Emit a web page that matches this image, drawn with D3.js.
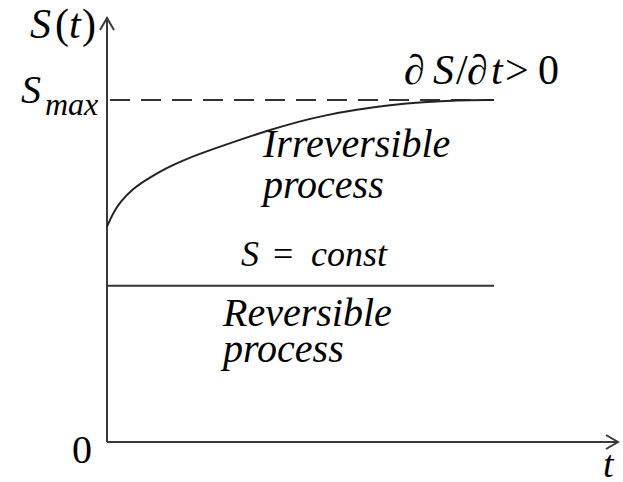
<!DOCTYPE html>
<html>
<head>
<meta charset="utf-8">
<script src="https://cdn.jsdelivr.net/npm/d3@7"></script>
</head>
<body style="margin:0">
<script>
// Irreversible process: entropy grows toward S_max
var tVals = [0, 0.155, 0.336, 0.672, 1.11, 1.55, 1.96, 2.40, 3.26, 4.13, 4.99, 5.58, 6.46, 7.31, 8.17, 9.04, 10];
var sVals = [0.63, 0.669, 0.701, 0.742, 0.774, 0.802, 0.823, 0.843, 0.877, 0.910, 0.938, 0.954, 0.972, 0.985, 0.994, 0.999, 1.0];
// Reversible process: constant entropy
var constT = [0, 10];
var constS = [0.457, 0.457];
var sMax = 1;
var tEnd = 10;

var width = 623, height = 482;

var svg = d3.select("body")
    .append("svg")
    .attr("width", width)
    .attr("height", height);

// labels first, one text element per piece
function label(px, py, size, txt, italic) {
    var t = svg.append("text")
        .attr("x", px).attr("y", py)
        .attr("font-family", "Liberation Serif")
        .attr("font-size", size);
    if (italic) t.attr("font-style", "italic");
    return t.text(txt);
}

// S(t)
label(30, 38, 42, "S", true);
label(55, 38, 42, "(", false);
label(69, 38, 42, "t", true);
label(82, 38, 42, ")", false);

// S_max
label(21, 103, 40, "S", true);
label(45, 115, 32, "max", true);

// dS/dt > 0
label(404, 84, 42, "\u2202", false);
label(433, 84, 42, "S", true);
label(456, 84, 42, "/", false);
label(467, 84, 42, "\u2202", false);
label(491, 84, 42, "t", true);
label(505, 84, 42, ">", false);
label(538, 84, 42, "0", false);

label(263, 157, 40, "Irreversible", true);
label(263, 198, 40, "process", true);

// S = const
label(241, 266, 36, "S", true);
label(273, 266, 36, "=", false);
label(311, 266, 36, "const", true);

label(223, 326, 40, "Reversible", true);
label(223, 362, 40, "process", true);

label(72, 463, 40, "0", false);
label(603, 477, 38, "t", true);

var x = d3.scaleLinear().domain([0, 10]).range([107, 494]);
var y = d3.scaleLinear().domain([0, 1]).range([442, 100]);

// axis extents (beyond the data) in data units
var xAxisEnd = x.invert(618);
var yAxisEnd = y.invert(18);

var axisColor = "#3a3a3a";

// y axis
svg.append("line")
    .attr("x1", x(0)).attr("y1", y(0))
    .attr("x2", x(0)).attr("y2", y(yAxisEnd))
    .attr("stroke", axisColor)
    .attr("stroke-width", 2);
svg.append("path")
    .attr("d", `M${x(0) - 7},${y(yAxisEnd) + 12} L${x(0)},${y(yAxisEnd)} L${x(0) + 7},${y(yAxisEnd) + 12}`)
    .attr("fill", "none")
    .attr("stroke", axisColor)
    .attr("stroke-width", 2);

// x axis
svg.append("line")
    .attr("x1", x(0)).attr("y1", y(0))
    .attr("x2", x(xAxisEnd)).attr("y2", y(0))
    .attr("stroke", axisColor)
    .attr("stroke-width", 2);
svg.append("path")
    .attr("d", `M${x(xAxisEnd) - 12},${y(0) - 7} L${x(xAxisEnd)},${y(0)} L${x(xAxisEnd) - 12},${y(0) + 7}`)
    .attr("fill", "none")
    .attr("stroke", axisColor)
    .attr("stroke-width", 2);

// S_max dashed line
svg.append("line")
    .attr("x1", x(0) + 3).attr("y1", y(sMax))
    .attr("x2", x(tEnd)).attr("y2", y(sMax))
    .attr("stroke", "#333")
    .attr("stroke-width", 2)
    .attr("stroke-dasharray", "20,11");

// curves
var line = d3.line()
    .x(d => x(d[0]))
    .y(d => y(d[1]))
    .curve(d3.curveBasis);

svg.append("path")
    .datum(d3.zip(tVals, sVals))
    .attr("d", line)
    .attr("fill", "none")
    .attr("stroke", "#222")
    .attr("stroke-width", 2);

svg.append("path")
    .datum(d3.zip(constT, constS))
    .attr("d", line)
    .attr("fill", "none")
    .attr("stroke", "#333")
    .attr("stroke-width", 2);
</script>
</body>
</html>
